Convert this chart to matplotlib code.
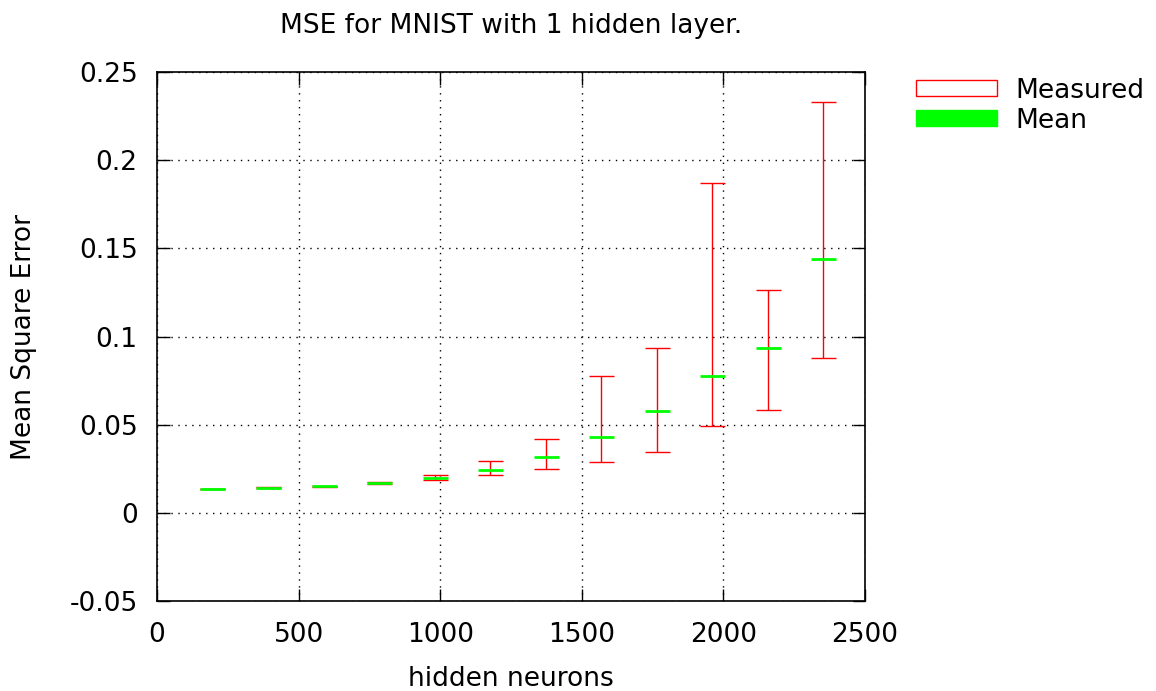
import matplotlib
matplotlib.use("Agg")
import matplotlib.pyplot as plt
from matplotlib.patches import Patch
import numpy as np

neurons = [196, 392, 588, 784, 980, 1176, 1372, 1568, 1764, 1960, 2156, 2352]
mse_min = [0.0133, 0.0139, 0.0149, 0.0161, 0.0186, 0.0216, 0.0248, 0.0286, 0.0345, 0.0491, 0.0583, 0.0877]
mse_max = [0.0138, 0.0144, 0.0155, 0.0176, 0.0213, 0.0296, 0.0417, 0.0776, 0.0936, 0.1869, 0.1262, 0.2328]
mse_mean = [0.0135, 0.0141, 0.0152, 0.0171, 0.0196, 0.0244, 0.0316, 0.0432, 0.0579, 0.0777, 0.0935, 0.1441]

xticks = [0, 500, 1000, 1500, 2000, 2500]
yticks = [-0.05, 0, 0.05, 0.1, 0.15, 0.2, 0.25]
ytick_labels = ["-0.05", "0", "0.05", "0.1", "0.15", "0.2", "0.25"]

plt.rcParams['font.family'] = ['DejaVu Sans']
FS = 19
fig = plt.figure(figsize=(11.56, 6.91), dpi=100)
ax = fig.add_axes([0.1358, 0.1302, 0.6125, 0.7656])

mn = np.array(mse_mean)
lo = mn - np.array(mse_min)
hi = np.array(mse_max) - mn
ax.errorbar(neurons, mse_mean, yerr=[lo, hi], fmt='none', ecolor='#ff0000',
            elinewidth=1.0, capsize=9, capthick=1.0, zorder=3)
ax.plot(neurons, mse_mean, ls='none', marker='_', markersize=18, mew=2,
        color='#00ff00', zorder=4)

ax.set_xlim(0, 2500)
ax.set_ylim(-0.05, 0.25)
ax.set_xticks(xticks)
ax.set_xticklabels([str(t) for t in xticks])
ax.set_yticks(yticks)
ax.set_yticklabels(ytick_labels)
ax.tick_params(axis='x', direction='in', length=9, width=1, top=True, right=True,
               labelsize=FS, pad=15)
ax.tick_params(axis='y', direction='in', length=9, width=1, top=True, right=True,
               labelsize=FS, pad=14)
ax.grid(True, color='black', linestyle=(0, (1, 4)), linewidth=1)
for s in ax.spines.values():
    s.set_linewidth(1.2)

ax.set_xlabel("hidden neurons", fontsize=FS, labelpad=13)
ax.set_ylabel("Mean Square Error", fontsize=FS, labelpad=23)
fig.text(0.442, 0.962, "MSE for MNIST with 1 hidden layer.", ha='center', va='center', fontsize=FS)

handles = [Patch(facecolor='white', edgecolor='#ff0000', linewidth=1),
           Patch(facecolor='#00ff00', edgecolor='#00ff00')]
fig.legend(handles, ["Measured", "Mean"], loc='upper left',
           bbox_to_anchor=(0.772, 0.922), frameon=False, fontsize=FS,
           handlelength=3.07, handleheight=0.57, handletextpad=0.68, labelspacing=0.15)

fig.savefig("out.png", dpi=100)
